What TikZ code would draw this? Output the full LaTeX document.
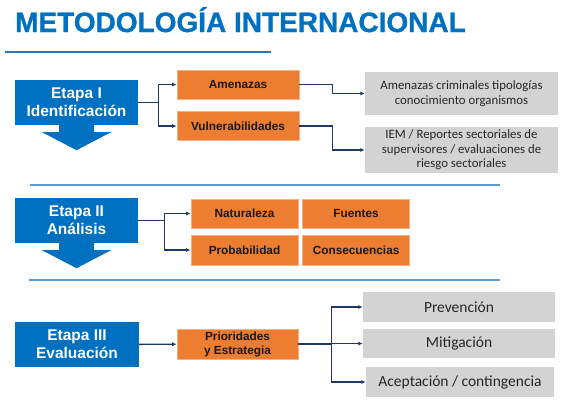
\documentclass[tikz,border=0pt]{standalone}
\usepackage{fontspec}
\setmainfont{Liberation Sans}
\newfontfamily\calibrifont{Carlito}
\newfontfamily\titulofont[FakeBold=1]{Liberation Sans Bold}
\usepackage{xcolor}
\usetikzlibrary{arrows.meta,positioning,calc}
\definecolor{azuletapa}{HTML}{0070C0}
\definecolor{azulclaro}{HTML}{5B9BD5}
\definecolor{azullinea}{HTML}{2E75B6}
\definecolor{azuloscuro}{HTML}{1F3864}
\definecolor{naranjo}{HTML}{ED7D31}
\definecolor{naranjoborde}{HTML}{F4B183}
\definecolor{grisclaro}{HTML}{D3D3D3}
\definecolor{textogris}{HTML}{262626}

\begin{document}
\begin{tikzpicture}[x=1pt, y=-1pt, >={Latex[length=4.5pt,width=4pt]},
    etapa/.style={rectangle, fill=azuletapa, text=white, font=\bfseries\fontsize{15.5}{18}\selectfont, align=center, minimum width=123pt, minimum height=45pt, inner sep=0pt},
    naranja/.style={rectangle, fill=naranjo, draw=naranjoborde, line width=0.6pt, font=\bfseries\fontsize{11.8}{14}\selectfont, text=black!90, align=center, inner sep=0pt, minimum height=29pt},
    gris/.style={rectangle, fill=grisclaro, text=textogris, align=center, inner sep=0pt, font=\calibrifont\fontsize{12.8}{14.5}\selectfont},
    grisgrande/.style={gris, font=\calibrifont\fontsize{15.5}{17}\selectfont, minimum height=30pt},
    conector/.style={draw=azuloscuro, line width=1.4pt},
    separador/.style={draw=azulclaro, line width=2pt}]
    \useasboundingbox (0,0) rectangle (567,410);

    % titulo
    \node [anchor=base west, text=azuletapa, inner sep=0pt, font=\titulofont\fontsize{28}{30}\selectfont] (titulo) at (15,32) {METODOLOGÍA INTERNACIONAL};
    \draw [azullinea, line width=2.5pt] (5,52) -- (271,52);
    \draw [separador] (30,185) -- (500,185);
    \draw [separador] (29,280) -- (500,280);

    % etapa I
    \node [etapa] (s1) at (76.5,102.5) {Etapa I\\Identificación};
    \node [naranja, minimum width=122pt] (am) at (238,84.5) {Amenazas};
    \node [naranja, minimum width=122pt, below=12pt of am] (vu) {Vulnerabilidades};
    \node [gris, minimum width=193pt, minimum height=43pt] (g1) at (461.5,93.5) {Amenazas criminales tipologías\\conocimiento organismos};
    \node [gris, minimum width=193pt, minimum height=46pt] (g2) at (461.5,150) {IEM / Reportes sectoriales de\\supervisores / evaluaciones de\\riesgo sectoriales};

    % etapa II
    \node [etapa] (s2) at (76.5,220.5) {Etapa II\\Análisis};
    \node [naranja, minimum width=107pt] (na) at (244.5,213.5) {Naturaleza};
    \node [naranja, minimum width=107pt, right=4pt of na] (fu) {Fuentes};
    \node [naranja, minimum width=107pt, minimum height=30pt] (pb) at (244.5,250) {Probabilidad};
    \node [naranja, minimum width=107pt, minimum height=30pt, right=4pt of pb] (co) {Consecuencias};

    % etapa III
    \node [etapa, minimum width=124pt] (s3) at (77,344.5) {Etapa III\\Evaluación};
    \node [naranja, minimum width=121pt, minimum height=30pt] (pri) at (237.5,344) {Prioridades\\y Estrategia};
    \node [grisgrande, minimum width=192pt] (pv) at (459,307) {Prevención};
    \node [grisgrande, minimum width=192pt, minimum height=29pt] (mi) at (459,343.5) {Mitigación};
    \node [grisgrande, minimum width=188pt] (ac) at (460,382) {Aceptación / contingencia};

    % flechas hacia abajo
    \foreach \s in {s1,s2}
        \fill [azuletapa] ([xshift=-17.5pt]\s.south) -- ++(0,7) -- ++(-17,0) -- ++(34.5,18) -- ++(34.5,-18) -- ++(-17,0) -- ++(0,-7) -- cycle;

    % conectores
    \draw [conector] (s1.east) -- ++(20,0) coordinate (r1);
    \draw [conector, ->] (r1) |- (am.west);
    \draw [conector, ->] (r1) |- (vu.west);
    \draw [conector, ->] (am.east) -- ++(33,0) |- (g1.west);
    \draw [conector, ->] (vu.east) -- ++(33,0) |- (g2.west);

    \draw [conector] (s2.east) -- ++(26,0) coordinate (r2);
    \draw [conector, ->] (r2) |- (na.west);
    \draw [conector, ->] (r2) |- (pb.west);

    \draw [conector, ->] (s3) -- (pri);
    \draw [conector] (pri.east) -- ++(33,0) coordinate (r3);
    \draw [conector, ->] (r3) |- (pv.west);
    \draw [conector, ->] (r3) |- (mi.west);
    \draw [conector, ->] (r3) |- (ac.west);
\end{tikzpicture}
\end{document}
